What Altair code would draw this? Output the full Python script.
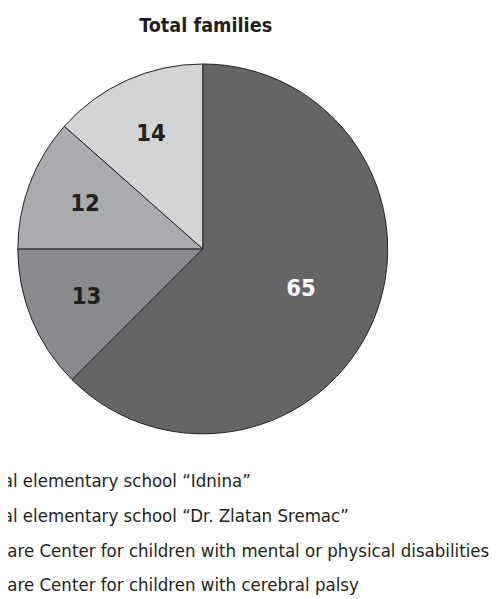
import altair as alt
import pandas as pd

categories = [
    "Special elementary school \u201cIdnina\u201d",
    "Special elementary school \u201cDr. Zlatan Sremac\u201d",
    "Day Care Center for children with mental or physical disabilities",
    "Day Care Center for children with cerebral palsy",
]
values = [65, 13, 12, 14]
colors = ["#656567", "#898a8d", "#aaabae", "#d3d4d6"]
title_text = "Total families"

df = pd.DataFrame({"category": categories, "value": values, "idx": list(range(len(values)))})

FONT = "DejaVu Sans Condensed, Liberation Sans Narrow, sans-serif"
CX, CY, R = 198, 200, 188
BIG = alt.datum.value > 50

base = alt.Chart(df).encode(
    theta=alt.Theta("value:Q", stack=True),
    order=alt.Order("idx:Q"),
)

pie = base.mark_arc(stroke="#231f20", strokeWidth=1, radius=R).encode(
    x=alt.value(CX),
    y=alt.value(CY),
    color=alt.Color(
        "category:N",
        scale=alt.Scale(domain=categories, range=colors),
        sort=categories,
        legend=alt.Legend(
            title=None,
            orient="none",
            legendX=-78,
            legendY=427,
            symbolType="square",
            symbolSize=256,
            symbolStrokeColor="#231f20",
            symbolStrokeWidth=1,
            labelFont=FONT,
            labelFontSize=18.8,
            labelColor="#231f20",
            labelLimit=1000,
            labelOffset=8,
            rowPadding=14.2,
        ),
    ),
)

label_style = dict(font=FONT, fontSize=24, fontWeight="bold", baseline="middle")

label_big = base.mark_text(radius=108, color="white", **label_style).encode(
    x=alt.value(CX),
    y=alt.value(CY),
    text=alt.condition(BIG, alt.Text("value:Q"), alt.value("")),
)

label_small = base.mark_text(radius=128, color="#231f20", **label_style).encode(
    x=alt.value(CX),
    y=alt.value(CY),
    text=alt.condition(BIG, alt.value(""), alt.Text("value:Q")),
)

chart = (
    alt.layer(pie, label_big, label_small)
    .properties(
        width=490,
        height=551,
        padding={"left": 0, "top": 40, "right": 0, "bottom": 0},
        autosize=alt.AutoSizeParams(type="none"),
        title=alt.TitleParams(
            title_text,
            font=FONT,
            fontSize=20,
            fontWeight="bold",
            color="#231f20",
            anchor="middle",
            dx=-44,
            offset=16,
        ),
    )
    .configure_view(stroke=None)
)

chart.save("out.html", embed_options={"renderer": "svg", "actions": False})
